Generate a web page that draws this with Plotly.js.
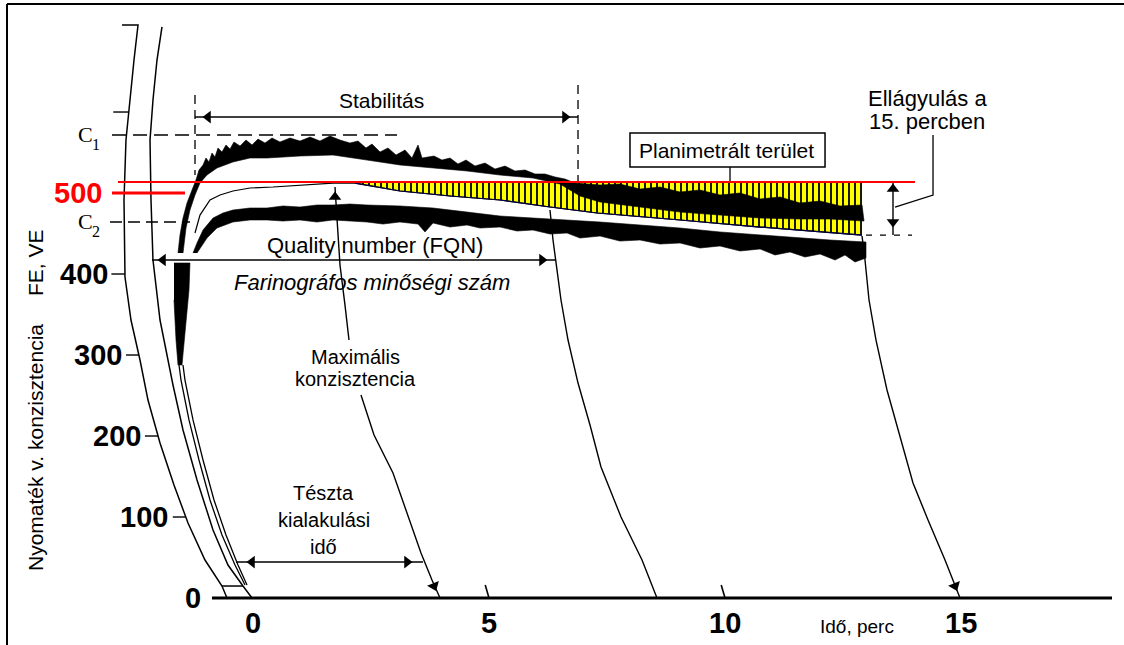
<!DOCTYPE html>
<html>
<head>
<meta charset="utf-8">
<script src="https://cdn.plot.ly/plotly-3.0.1.min.js"></script>
<style>html,body{margin:0;padding:0;background:#fff;}#chart{width:1124px;height:645px;}</style>
</head>
<body>
<div id="chart"></div>
<script>
// ---------- data (time in minutes, consistency in FE/VE) ----------
const xTickVals = [0, 5, 10, 15];
const xTickLabels = ['0', '5', '10', '15'];
const yTickVals = [0, 100, 200, 300, 400];
const yTickLabels = ['0', '100', '200', '300', '400'];
const redTickVal = 500;
const redTickLabel = '500';
const line500 = 513.6;          // red reference line
const consC1 = 571.6;           // C1 level
const consC2 = 464.2;           // C2 level
const qualityLevel = 417.3;     // FQN arrow level
const stabLevel = 593.8;        // stability arrow level
const devLevel = 44.4;          // development time arrow level
const stabStart = -1.229, stabEnd = 6.886;
const fqnTime = 6.398;
const softenTop = 513.6, softenBottom = 448.1, softenTime = 13.559;

// farinogram: upper envelope (top / bottom edge)
const upperTopX = [-1.589,-1.547,-1.483,-1.398,-1.292,-1.208,-1.144,-1.059,-0.996,-0.932,-0.869,-0.805,-0.742,-0.657,-0.572,-0.487,-0.403,-0.275,-0.148,-0.021,0.106,0.254,0.403,0.572,0.784,0.996,1.208,1.419,1.631,1.843,2.055,2.225,2.394,2.521,2.691,2.860,3.030,3.220,3.369,3.496,3.581,3.835,4.004,4.174,4.343,4.513,4.703,4.915,5.127,5.339,5.551,5.763,5.975,6.186,6.398,6.610,6.822,7.352,7.775,8.199,8.623,9.047,9.470,9.894,10.318,10.742,11.165,11.589,12.013,12.436,12.903];
const upperTopY = [425.9,448.1,469.1,487.7,503.7,516.0,528.4,534.6,543.2,538.3,549.4,544.4,555.6,550.6,559.3,554.3,563.0,558.0,565.4,559.3,566.7,561.7,567.9,563.0,567.9,564.2,569.1,564.2,570.4,565.4,561.7,564.2,555.6,560.5,550.6,555.6,546.9,553.1,543.2,559.3,543.2,545.7,540.7,543.2,535.8,540.7,533.3,537.0,529.6,533.3,527.2,528.4,523.5,523.5,519.8,517.3,512.3,509.9,511.1,504.9,507.4,501.2,503.7,497.5,500.0,492.6,495.1,487.7,490.1,484.0,485.2];
const upperBotX = [-1.483,-1.419,-1.335,-1.229,-1.123,-0.975,-0.763,-0.424,-0.064,0.297,0.996,1.695,2.415,3.114,3.814,4.534,5.233,5.932,6.504,6.928,7.352,8.199,9.047,9.894,10.742,11.589,12.225,12.945];
const upperBotY = [425.9,456.8,479.0,497.5,512.3,522.2,530.9,538.3,543.2,543.2,545.7,546.9,540.7,534.6,530.9,527.2,522.2,518.5,511.1,496.3,488.9,482.7,476.5,472.8,469.1,467.9,467.9,465.4];
// farinogram: lower envelope
const lowerTopX = [-1.271,-1.186,-1.059,-0.847,-0.636,-0.424,-0.064,0.297,0.636,0.996,1.356,1.695,2.055,2.415,3.114,3.814,4.534,5.233,5.932,6.653,7.352,8.199,9.047,9.894,10.742,11.589,12.225,12.987];
const lowerTopY = [425.9,438.3,454.3,469.1,475.3,479.0,481.5,481.5,484.0,482.7,485.2,485.2,486.4,485.2,484.0,481.5,476.5,471.6,469.1,466.7,464.2,460.5,456.8,451.9,448.1,444.4,442.0,439.5];
const lowerBotX = [-1.186,-0.975,-0.763,-0.424,-0.064,0.297,0.636,0.996,1.356,1.695,2.055,2.415,2.754,3.114,3.496,3.644,3.814,4.174,4.534,4.809,5.233,5.593,5.932,6.292,6.653,6.928,7.352,7.775,8.199,8.623,9.047,9.470,9.894,10.318,10.742,11.059,11.377,11.695,12.013,12.331,12.542,12.754,12.987];
const lowerBotY = [425.9,444.4,456.8,464.2,466.7,466.7,465.4,466.7,464.2,466.7,465.4,464.2,461.7,464.2,461.7,451.9,463.0,458.0,460.5,456.8,458.0,453.1,454.3,449.4,450.6,444.4,446.9,440.7,442.0,437.0,438.3,432.1,434.6,428.4,430.9,423.5,427.2,421.0,424.7,417.3,423.5,414.8,419.8];
// initial pen swing
const startBlobX = [-1.674,-1.335,-1.356,-1.419,-1.462,-1.504,-1.589,-1.631,-1.674];
const startBlobY = [413.6,413.6,380.2,343.2,312.3,287.7,287.7,318.5,367.9];
// centre line of the band
const centerX = [-1.229,-1.123,-0.911,-0.699,-0.424,-0.064,0.424,0.996,1.695,2.161,3.114,4.174,5.233,6.292,7.288,9.047,10.742,12.903];
const centerY = [450.6,472.8,491.4,497.5,502.5,506.2,507.4,509.9,512.3,512.3,502.5,496.3,491.4,482.7,475.3,466.7,458.0,448.1];
// chart-paper arcs
const arcOuterX = [-2.775,-2.436,-2.521,-2.606,-2.691,-2.733,-2.712,-2.585,-2.394,-2.225,-1.970,-1.674,-1.377,-1.017,-0.657,-0.551];
const arcOuterY = [707.4,707.4,664.2,614.8,565.4,491.4,396.3,343.2,293.8,244.4,191.4,139.5,92.6,46.9,14.8,0];
const arcInnerX = [-1.928,-2.034,-2.119,-2.182,-2.161,-2.119,-1.970,-1.801,-1.695,-1.483,-1.186,-0.847,-0.530,-0.212,-0.021];
const arcInnerY = [705.0,664.2,614.8,565.4,491.4,417.3,343.2,293.8,263.0,207.4,145.7,84.0,40.7,14.8,0];
const trailAX = [-1.568,-1.525,-1.356,-1.144,-0.911,-0.657,-0.381,-0.169];
const trailBX = [-1.483,-1.441,-1.271,-1.059,-0.826,-0.572,-0.318,-0.127];
const trailY  = [287.7,269.1,219.8,170.4,121.0,77.8,40.7,16.0];
const maxArc1X = [1.737,1.801,1.843,1.949,2.034];
const maxArc1Y = [507.4,454.3,411.1,361.7,318.5];
const maxArc2X = [2.288,2.564,2.966,3.284,3.559,3.792,3.962];
const maxArc2Y = [250.6,201.2,154.3,102.5,55.6,22.2,0];
const fqnArcX = [6.292,6.356,6.441,6.525,6.674,6.886,7.140,7.373,7.797,8.242,8.559];
const fqnArcY = [479.0,442.0,404.9,367.9,318.5,265.4,213.6,161.7,100.0,46.9,0];
const endArcX = [12.903,12.966,13.051,13.199,13.432,13.665,13.983,14.301,14.661,14.979];
const endArcY = [446.9,417.3,367.9,318.5,256.8,207.4,142.0,96.3,46.9,0];
// tick marks on the outer arc (value, left end, arc end)
const arcTickVals = [100, 200, 300, 400, 600];
const arcTickFrom = [-1.70, -2.29, -2.69, -3.00, -2.96];
const arcTickTo   = [-1.424, -2.011, -2.418, -2.713, -2.631];

// ---------- drawing ----------
const F = 'Liberation Sans, Arial, sans-serif';
const traces = [];
function ln(x, y, w, color, dash) {
  traces.push({type:'scatter', mode:'lines', x:x, y:y, hoverinfo:'skip',
    line:{color: color || '#000', width: w || 1.3, dash: dash || 'solid'}});
}
function poly(topX, topY, botX, botY) {
  traces.push({type:'scatter', mode:'lines', hoverinfo:'skip', fill:'toself',
    x: topX.concat(botX.slice().reverse()), y: topY.concat(botY.slice().reverse()),
    fillcolor:'#000', line:{color:'#000', width:0.6}});
}
// yellow planimetered area
const yx = centerX.slice(9), yy = centerY.slice(9);
traces.push({type:'scatter', mode:'lines', hoverinfo:'skip', fill:'toself',
  x: yx.concat([yx[yx.length-1], yx[0]]), y: yy.concat([line500, line500]),
  fillcolor:'#ffff00', line:{width:0, color:'rgba(0,0,0,0)'},
  fillpattern:{shape:'|', fgcolor:'#000', bgcolor:'#ffff00', size:6, solidity:0.3, fillmode:'replace'}});
poly(upperTopX, upperTopY, upperBotX, upperBotY);
poly(lowerTopX, lowerTopY, lowerBotX, lowerBotY);
traces.push({type:'scatter', mode:'lines', hoverinfo:'skip', fill:'toself', x:startBlobX, y:startBlobY,
  fillcolor:'#000', line:{color:'#000', width:0.6}});
ln(centerX, centerY, 1.2, '#000');
ln(centerX.slice(9), centerY.slice(9), 1.2, '#000040');
// arcs
ln(arcOuterX, arcOuterY, 1.5);
ln(arcInnerX, arcInnerY, 1.5);
ln(trailAX, trailY, 1.3);
ln(trailBX, trailY, 1.3);
ln([arcOuterX[14], arcInnerX[13]], [arcOuterY[14], arcInnerY[13]], 1.5);
ln(maxArc1X, maxArc1Y, 1.4);
ln(maxArc2X, maxArc2Y, 1.4);
ln(fqnArcX, fqnArcY, 1.4);
ln(endArcX, endArcY, 1.4);
// arc ticks
arcTickVals.forEach((v, i) => ln([arcTickFrom[i], arcTickTo[i]], [v, v], 1.4));
// baseline and its small ticks
ln([-0.869, 18.199], [0, 0], 3);
ln([xTickVals[1] - 0.08, xTickVals[1]], [16, 0], 1.6);
ln([xTickVals[2] - 0.08, xTickVals[2]], [16, 0], 1.6);
// reference levels
ln([-2.987, 3.051], [consC1, consC1], 1.3, '#000', '14px,7px');
ln([-3.030, -1.335], [consC2, consC2], 1.3, '#000', '12px,6px');
ln([stabStart, stabStart], [621.0, 522.2], 1.3, '#000', '9px,6px');
ln([stabEnd, stabEnd], [633.3, line500], 1.3, '#000', '9px,6px');
ln([12.987, 13.962], [softenBottom, softenBottom], 1.3, '#000', '6px,8px');
ln([14.407, 14.407, 13.602], [571.6, 497.5, 482.7], 1.3);
ln([10.106, 10.106], [532.1, line500], 1.3);
// dimension arrows (lines)
ln([stabStart, stabEnd], [stabLevel, stabLevel], 1.4);
ln([-2.140, fqnTime + 0.02], [qualityLevel, qualityLevel], 1.4);
ln([-0.360, 3.602], [devLevel, devLevel], 1.4);
ln([softenTime, softenTime], [softenTop, softenBottom], 1.4);
// red lines
ln([-2.860, 14.025], [line500, line500], 1.8, '#ff0000');
ln([-2.987, -1.441], [redTickVal, redTickVal], 3, '#ff0000');
// arrow heads
const headX = [-0.953, 6.610, -1.907, 6.123, -0.021, 3.263, softenTime, softenTime, 1.737, 3.835, 14.873];
const headY = [stabLevel, stabLevel, qualityLevel, qualityLevel, devLevel, devLevel, 505.0, 464.2, 495.1, 14.8, 14.8];
const headSym = ['triangle-left','triangle-right','triangle-left','triangle-right','triangle-left','triangle-right',
  'triangle-up','triangle-down','triangle-up','triangle-down','triangle-down'];
const headAng = [0,0,0,0,0,0,0,0,0,-22,-22];
traces.push({type:'scatter', mode:'markers', x:headX, y:headY, hoverinfo:'skip', cliponaxis:false,
  marker:{symbol:headSym, angle:headAng, size:11, color:'#000', line:{width:0}}});

// ---------- annotations ----------
const ann = [];
function txt(x, y, text, o) {
  ann.push(Object.assign({x:x, y:y, xref:'x', yref:'y', text:text, showarrow:false,
    font:{family:F, size:21, color:'#000'}}, o || {}));
}
const serif = 'Liberation Serif, serif';
txt(2.712, 614.8, 'Stabilitás');
txt(2.585, 434.6, 'Quality number (FQN)', {font:{family:F, size:22, color:'#000'}});
txt(2.521, 390.1, 'Farinográfos minőségi szám', {font:{family:F, size:22, color:'#000', style:'italic'}});
txt(2.161, 297.0, 'Maximális', {font:{family:F, size:20, color:'#000'}});
txt(2.161, 270.0, 'konzisztencia', {font:{family:F, size:20, color:'#000'}});
txt(1.504, 129.6, 'Tészta', {font:{family:F, size:20, color:'#000'}});
txt(1.504, 96.3, 'kialakulási', {font:{family:F, size:20, color:'#000'}});
txt(1.504, 62.9, 'idő', {font:{family:F, size:20, color:'#000'}});
txt(10.042, 553.1, 'Planimetrált terület');
txt(14.280, 617.3, 'Ellágyulás a', {font:{family:F, size:22, color:'#000'}});
txt(14.280, 587.7, '15. percben', {font:{family:F, size:22, color:'#000'}});
txt(12.797, -0.063, 'Idő, perc', {yref:'paper', font:{family:F, size:19, color:'#000'}});
txt(-4.619, 186.4, 'Nyomaték v. konzisztencia', {textangle:-90});
txt(-4.619, 414.8, 'FE, VE', {textangle:-90});
txt(-3.34, consC1 + 1, 'C', {xanchor:'right', font:{family:serif, size:22, color:'#000'}});
txt(-3.46, consC1 - 12, '1', {xanchor:'left', font:{family:serif, size:16, color:'#000'}});
txt(-3.34, consC2 + 1, 'C', {xanchor:'right', font:{family:serif, size:22, color:'#000'}});
txt(-3.46, consC2 - 12, '2', {xanchor:'left', font:{family:serif, size:16, color:'#000'}});
const yLabelRight = [-1.06, -1.75, -2.33, -2.73, -3.03];
yTickVals.forEach((v, i) => txt(yLabelRight[i], v, yTickLabels[i],
  {xanchor:'right', font:{family:F, size:29, color:'#000', weight:'bold'}}));
txt(-3.157, redTickVal, redTickLabel, {xanchor:'right', font:{family:F, size:29, color:'#ff0000', weight:'bold'}});
// time axis labels
xTickVals.forEach((v, i) => txt(v, -0.066, xTickLabels[i],
  {yref:'paper', font:{family:F, size:29, color:'#000', weight:'bold'}}));

const layout = {
  width:1124, height:645, margin:{l:0, r:0, t:0, b:44, pad:0},
  paper_bgcolor:'#fff', plot_bgcolor:'#fff', showlegend:false,
  font:{family:F, color:'#000'},
  xaxis:{range:[-5.360, 18.453], visible:false, fixedrange:true},
  yaxis:{range:[-3.7, 738.3], visible:false, fixedrange:true},
  shapes:[
    {type:'rect', xref:'x', yref:'y', x0:7.987, x1:12.119, y0:532.1, y1:574.1, line:{color:'#000', width:1.5}, fillcolor:'#fff', layer:'above'},
    {type:'line', xref:'paper', yref:'paper', x0:0.00623, x1:1, y0:0.9933, y1:0.9933, line:{color:'#000', width:2}},
    {type:'line', xref:'paper', yref:'paper', x0:0.00623, x1:0.00623, y0:0.9933, y1:-0.08, line:{color:'#000', width:2}}
  ],
  annotations: ann
};
Plotly.newPlot('chart', traces, layout, {staticPlot:true, displayModeBar:false});
</script>
</body>
</html>
